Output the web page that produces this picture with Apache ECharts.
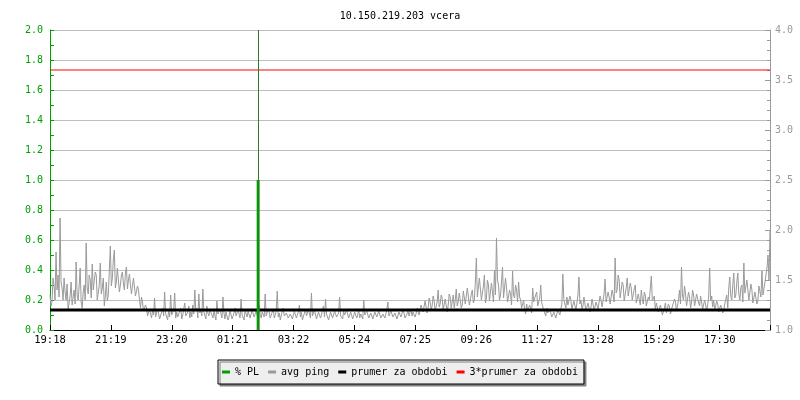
<!DOCTYPE html>
<html>
<head>
<meta charset="utf-8">
<script src="https://cdn.jsdelivr.net/npm/echarts@6/dist/echarts.min.js"></script>
<style>html,body{margin:0;padding:0;background:#fff}#c{width:800px;height:400px}</style>
</head>
<body>
<div id="c"></div>
<script>
const titleText = '10.150.219.203 vcera';
const xTickLabels = ['19:18','21:19','23:20','01:21','03:22','05:24','07:25','09:26','11:27','13:28','15:29','17:30'];
const tickStepMin = 121.09;      // minutes between labelled ticks
const spanMin = 1432;            // minutes shown on the x axis
const sampleStepMin = 2;         // minutes between avg ping samples
// avg ping (right axis)
const avgPing = [
1.35,1.24,1.28,1.52,1.45,1.30,1.78,1.40,1.55,1.33,2.12,1.48,1.42,1.30,1.52,1.38,1.30,1.46,1.21,1.27,
1.34,1.48,1.25,1.33,1.40,1.26,1.68,1.35,1.30,1.44,1.62,1.28,1.22,1.38,1.45,1.30,1.87,1.42,1.36,1.55,
1.50,1.32,1.66,1.40,1.38,1.58,1.55,1.30,1.28,1.45,1.67,1.36,1.42,1.52,1.24,1.34,1.48,1.29,1.35,1.60,
1.84,1.44,1.52,1.70,1.80,1.42,1.48,1.62,1.60,1.38,1.45,1.55,1.58,1.46,1.40,1.57,1.63,1.41,1.50,1.56,
1.45,1.36,1.38,1.52,1.50,1.34,1.32,1.44,1.40,1.30,1.22,1.33,1.28,1.19,1.18,1.25,1.22,1.14,1.15,1.21,
1.16,1.12,1.20,1.15,1.32,1.13,1.14,1.21,1.19,1.11,1.12,1.18,1.22,1.14,1.38,1.16,1.15,1.10,1.20,1.13,
1.35,1.15,1.14,1.20,1.37,1.12,1.18,1.13,1.12,1.19,1.22,1.11,1.15,1.21,1.27,1.14,1.13,1.18,1.24,1.12,
1.18,1.13,1.25,1.16,1.40,1.19,1.22,1.12,1.36,1.17,1.20,1.14,1.41,1.18,1.16,1.11,1.24,1.17,1.14,1.20,
1.22,1.15,1.12,1.19,1.18,1.10,1.29,1.16,1.14,1.21,1.20,1.12,1.33,1.17,1.11,1.18,1.17,1.10,1.13,1.20,
1.19,1.11,1.12,1.17,1.22,1.14,1.15,1.20,1.18,1.12,1.31,1.15,1.14,1.10,1.21,1.16,1.13,1.19,1.19,1.12,
1.16,1.20,1.22,1.13,1.14,1.19,1.18,1.11,1.25,1.15,1.12,1.18,1.20,1.13,1.36,1.14,1.15,1.21,1.18,1.12,
1.13,1.18,1.21,1.12,1.15,1.20,1.39,1.13,1.17,1.10,1.12,1.19,1.22,1.14,1.14,1.17,1.19,1.12,1.11,1.16,
1.17,1.11,1.13,1.19,1.20,1.12,1.14,1.18,1.25,1.13,1.18,1.10,1.12,1.17,1.21,1.14,1.15,1.20,1.19,1.12,
1.37,1.14,1.16,1.20,1.22,1.11,1.13,1.18,1.19,1.12,1.15,1.21,1.24,1.13,1.31,1.16,1.17,1.10,1.12,1.18,
1.18,1.12,1.14,1.19,1.21,1.13,1.12,1.17,1.33,1.14,1.16,1.11,1.19,1.15,1.13,1.20,1.22,1.12,1.15,1.18,
1.17,1.11,1.13,1.18,1.19,1.12,1.15,1.20,1.12,1.16,1.18,1.11,1.30,1.15,1.14,1.19,1.20,1.12,1.13,1.17,
1.16,1.11,1.12,1.18,1.18,1.13,1.14,1.19,1.19,1.12,1.11,1.16,1.17,1.12,1.13,1.20,1.28,1.14,1.15,1.19,
1.18,1.13,1.12,1.17,1.16,1.11,1.11,1.18,1.19,1.13,1.14,1.20,1.17,1.12,1.12,1.16,1.20,1.14,1.15,1.21,
1.14,1.18,1.19,1.13,1.16,1.22,1.21,1.15,1.17,1.25,1.24,1.18,1.19,1.29,1.27,1.17,1.22,1.32,1.28,1.20,
1.24,1.34,1.30,1.19,1.21,1.28,1.40,1.23,1.26,1.35,1.32,1.20,1.22,1.31,1.30,1.18,1.25,1.36,1.33,1.22,
1.28,1.35,1.22,1.30,1.41,1.24,1.29,1.37,1.36,1.22,1.25,1.39,1.38,1.26,1.27,1.42,1.34,1.25,1.24,1.36,
1.40,1.27,1.30,1.48,1.72,1.33,1.35,1.52,1.50,1.30,1.28,1.44,1.55,1.27,1.32,1.50,1.45,1.29,1.30,1.47,
1.38,1.28,1.60,1.35,1.92,1.50,1.45,1.30,1.35,1.48,1.63,1.32,1.30,1.52,1.42,1.28,1.28,1.40,1.36,1.25,
1.59,1.35,1.32,1.45,1.40,1.28,1.48,1.33,1.30,1.22,1.24,1.30,1.20,1.16,1.26,1.19,1.18,1.25,1.23,1.17,
1.42,1.28,1.30,1.35,1.38,1.24,1.22,1.32,1.45,1.27,1.25,1.20,1.18,1.14,1.22,1.17,1.15,1.21,1.20,1.13,
1.14,1.18,1.19,1.12,1.16,1.20,1.22,1.15,1.17,1.26,1.56,1.30,1.28,1.22,1.33,1.25,1.25,1.34,1.30,1.21,
1.22,1.29,1.31,1.20,1.27,1.35,1.53,1.26,1.30,1.21,1.24,1.33,1.32,1.19,1.20,1.27,1.28,1.18,1.23,1.31,
1.26,1.19,1.20,1.28,1.29,1.21,1.22,1.34,1.30,1.23,1.25,1.36,1.51,1.28,1.27,1.38,1.33,1.26,1.24,1.40,
1.35,1.28,1.72,1.37,1.40,1.55,1.50,1.32,1.33,1.48,1.45,1.29,1.30,1.42,1.52,1.34,1.36,1.47,1.42,1.30,
1.32,1.41,1.45,1.27,1.28,1.36,1.38,1.25,1.40,1.31,1.26,1.38,1.35,1.24,1.22,1.33,1.30,1.42,1.54,1.29,
1.28,1.34,1.20,1.27,1.26,1.18,1.18,1.25,1.24,1.15,1.16,1.22,1.27,1.17,1.19,1.26,1.23,1.16,1.17,1.24,
1.22,1.31,1.28,1.19,1.20,1.30,1.40,1.26,1.63,1.34,1.30,1.44,1.36,1.24,1.25,1.38,1.33,1.22,1.28,1.40,
1.35,1.24,1.26,1.36,1.38,1.27,1.24,1.34,1.32,1.21,1.22,1.30,1.30,1.20,1.25,1.33,1.62,1.29,1.34,1.23,
1.30,1.20,1.22,1.29,1.26,1.18,1.19,1.25,1.24,1.17,1.20,1.26,1.28,1.35,1.22,1.42,1.53,1.34,1.30,1.45,
1.57,1.32,1.35,1.48,1.57,1.36,1.30,1.42,1.45,1.28,1.67,1.37,1.38,1.50,1.52,1.30,1.32,1.46,1.40,1.27,
1.28,1.38,1.36,1.26,1.30,1.44,1.42,1.33,1.59,1.35,1.37,1.48,1.55,1.62,1.75,1.50,2.00
];
// % PL events (left axis)
const plTime = [414];
const plValue = [1.0];
const meanPing = 1.2;
const tripleMeanPing = 3.6;
const legendNames = ['% PL', 'avg ping', 'prumer za obdobi', '3*prumer za obdobi'];

const GREEN = '#00a000', GRAY = '#9a9a9a', FONT = 'DejaVu Sans Mono';
const pingData = avgPing.map((v, i) => [i * sampleStepMin, v]);
const plData = plTime.map((t, i) => [t, plValue[i]]);

const chart = echarts.init(document.getElementById('c'), null, {renderer: 'canvas'});
chart.setOption({
  animation: false,
  backgroundColor: '#fff',
  title: {text: titleText, left: 'center', top: 6,
    textStyle: {fontFamily: FONT, fontSize: 10, fontWeight: 'normal', color: '#000'}},
  legend: {
    data: legendNames, left: 218, top: 360,
    icon: 'rect', itemWidth: 8, itemHeight: 3, itemGap: 9,
    padding: [7, 6, 7, 4],
    backgroundColor: '#eeeeee', borderColor: '#000', borderWidth: 1,
    shadowColor: '#808080', shadowBlur: 0, shadowOffsetX: 2, shadowOffsetY: 2,
    textStyle: {fontFamily: FONT, fontSize: 10, color: '#000'}
  },
  grid: {left: 50, right: 30, top: 30, bottom: 70, containLabel: false, outerBoundsMode: 'none'},
  xAxis: {
    type: 'value', min: 0, max: spanMin, interval: tickStepMin,
    axisLine: {lineStyle: {color: '#000', width: 1}},
    axisTick: {inside: true, length: 5, lineStyle: {color: '#000'}},
    splitLine: {show: false},
    axisLabel: {fontFamily: FONT, fontSize: 10.5, color: '#000', margin: 5,
      formatter: v => {
        const k = Math.round(v / tickStepMin);
        return (Math.abs(v - k * tickStepMin) < 0.5 && k < xTickLabels.length) ? xTickLabels[k] : '';
      }}
  },
  yAxis: [{
    type: 'value', min: 0, max: 2, interval: 0.2, position: 'left',
    axisLine: {show: true, lineStyle: {color: GREEN}},
    axisTick: {show: true, inside: true, length: 4, lineStyle: {color: GREEN}},
    minorTick: {show: true, splitNumber: 2, length: 4, lineStyle: {color: GREEN}},
    splitLine: {show: true, lineStyle: {color: '#bdbdbd', width: 1}},
    axisLabel: {fontFamily: FONT, fontSize: 10, color: GREEN, margin: 7, formatter: v => v.toFixed(1)}
  }, {
    type: 'value', min: 1, max: 4, interval: 0.5, position: 'right',
    axisLine: {show: true, lineStyle: {color: GRAY}},
    axisTick: {show: true, inside: true, length: 5, lineStyle: {color: GRAY}},
    minorTick: {show: true, splitNumber: 5, length: 3, lineStyle: {color: GRAY}},
    splitLine: {show: false},
    axisLabel: {fontFamily: FONT, fontSize: 10, color: GRAY, margin: 5, formatter: v => v.toFixed(1)}
  }],
  series: [{
    name: legendNames[1], type: 'line', yAxisIndex: 1, data: pingData,
    showSymbol: false, symbol: 'none', color: GRAY,
    lineStyle: {color: GRAY, width: 1}, z: 2
  }, {
    name: legendNames[2], type: 'line', yAxisIndex: 1,
    data: [[0, meanPing], [spanMin, meanPing]],
    showSymbol: false, symbol: 'none', color: '#000',
    lineStyle: {color: '#000', width: 3}, z: 3
  }, {
    name: legendNames[3], type: 'line', yAxisIndex: 1,
    data: [[0, tripleMeanPing], [spanMin, tripleMeanPing]],
    showSymbol: false, symbol: 'none', color: '#ff0000',
    lineStyle: {color: '#ff0000', width: 1}, z: 3
  }, {
    name: legendNames[0], type: 'bar', yAxisIndex: 0, data: plData,
    barWidth: 3, color: GREEN, itemStyle: {color: GREEN}, z: 4,
    markLine: {silent: true, symbol: 'none', label: {show: false},
      lineStyle: {color: '#2a7a2a', width: 1, type: 'solid'},
      data: plTime.map(t => ({xAxis: t}))}
  }]
});
</script>
</body>
</html>
